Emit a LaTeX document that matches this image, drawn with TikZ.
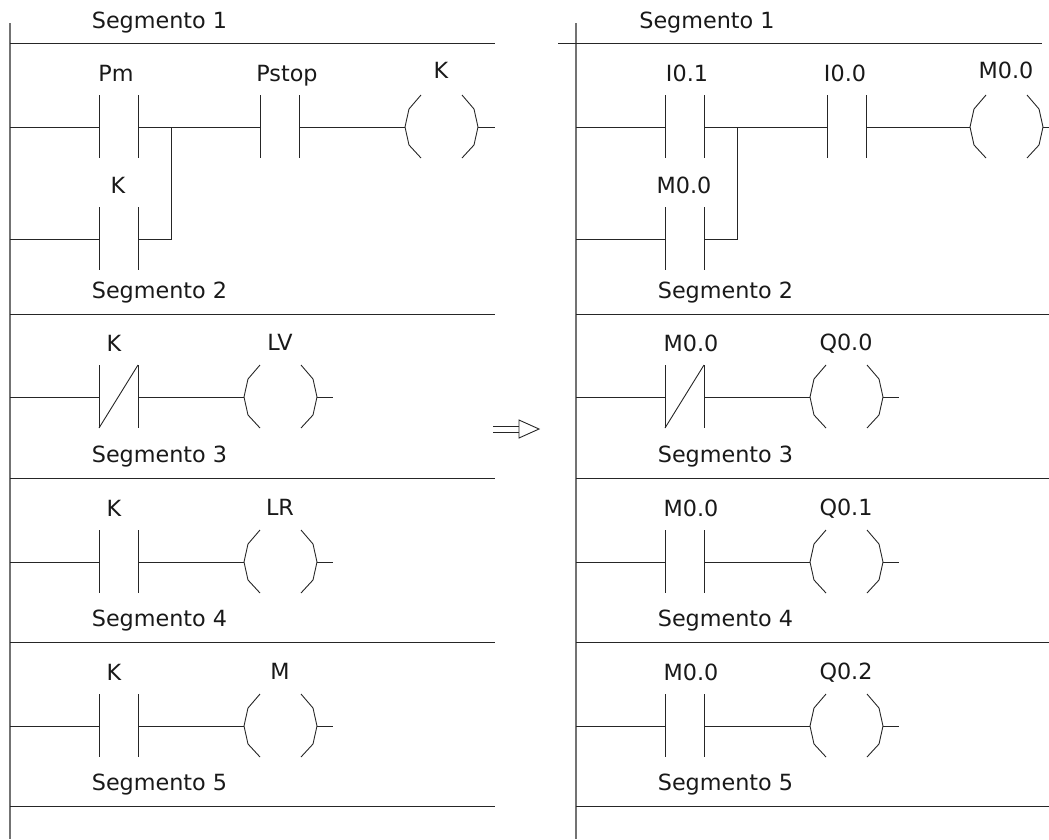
\documentclass[tikz,border=0pt]{standalone}
\usepackage{fontspec}
\setmainfont{DejaVu Sans}
\tikzset{
    wire/.style={line width=0.9pt,black!85},
    rail/.style={line width=1.2pt,black!55},
    lbl/.style={font=\fontsize{22.3}{24}\selectfont,text=black!90,inner sep=0pt,anchor=base},
}
% contact: #1 label shift, #2 name, #3 x, #4 y, #5 label
\newcommand{\contact}[5][15]{
    \coordinate (#2a) at (#3,#4);
    \coordinate (#2b) at (#3+39,#4);
    \draw[wire] (#3,#4-32) -- (#3,#4+31);
    \draw[wire] (#3+39,#4-32) -- (#3+39,#4+31);
    \node[lbl] (#2t) at (#3+#1,#4-46) {#5};
}
% coil: #1 label rise, #2 name, #3 x, #4 y, #5 label
\newcommand{\coil}[5][47]{
    \coordinate (#2a) at (#3,#4);
    \coordinate (#2b) at (#3+73,#4);
    \draw[wire] (#3+16,#4-32) -- (#3+4,#4-18) -- (#3,#4) -- (#3+4,#4+18) -- (#3+16,#4+31);
    \draw[wire] (#3+57,#4-32) -- (#3+69,#4-18) -- (#3+73,#4) -- (#3+69,#4+18) -- (#3+57,#4+31);
    \node[lbl] (#2t) at (#3+36,#4-#1) {#5};
}
\begin{document}
\begin{tikzpicture}[x=1pt,y=-1pt]
    \useasboundingbox (0,0) rectangle (1049,839);

    % left network
    \draw[rail] (10,23) -- (10,839);
    \foreach \y in {43,314,478,642,806} {
        \draw[wire] (10,\y) -- (495,\y);
    }
    \node[lbl] (sa) at (159.5,28) {Segmento 1};
    \node[lbl] (sb) at (159.5,298) {Segmento 2};
    \node[lbl] (sc) at (159.5,462) {Segmento 3};
    \node[lbl] (sd) at (159.5,626) {Segmento 4};
    \node[lbl] (se) at (159.5,790) {Segmento 5};

    \contact[17]{pm}{99}{127}{Pm}
    \contact[27]{pstop}{260}{127}{Pstop}
    \coil[49]{ka}{405}{127}{K}
    \contact[19]{kb}{99}{239}{K}
    \coordinate (bra) at (171,127);
    \coordinate (brb) at (171,239);
    \coordinate (ra) at (10,127);
    \coordinate (rb) at (10,239);
    \coordinate (ea) at (495,127);
    \draw[wire] (ra) -- (pma);
    \draw[wire] (pmb) -- (pstopa);
    \draw[wire] (pstopb) -- (kaa);
    \draw[wire] (kab) -- (ea);
    \draw[wire] (rb) -- (kba);
    \draw[wire] (kbb) -- (brb) -- (bra);

    \contact{kc}{99}{397}{K}
    \draw[wire] (99,428) -- (138,365);
    \coil{lv}{244}{397}{LV}
    \contact{kd}{99}{562}{K}
    \coil{lr}{244}{562}{LR}
    \contact{ke}{99}{726}{K}
    \coil{mo}{244}{726}{M}
    \foreach \c/\d/\y in {kc/lv/397,kd/lr/562,ke/mo/726} {
        \coordinate (r) at (10,\y);
        \coordinate (e) at (333,\y);
        \draw[wire] (r) -- (\c a);
        \draw[wire] (\c b) -- (\d a);
        \draw[wire] (\d b) -- (e);
    }

    % arrow
    \draw[wire,line width=0.7pt] (493,426) -- (519,426);
    \draw[wire,line width=0.7pt] (493,432.5) -- (519,432.5);
    \draw[wire] (519,420) -- (539,429) -- (519,438) -- cycle;

    % right network
    \draw[rail] (576,23) -- (576,839);
    \draw[wire] (558,43) -- (1042,43);
    \foreach \y in {314,478,642,806} {
        \draw[wire] (576,\y) -- (1049,\y);
    }
    \node[lbl] (ta) at (707,28) {Segmento 1};
    \node[lbl] (tb) at (725.5,298) {Segmento 2};
    \node[lbl] (tc) at (725.5,462) {Segmento 3};
    \node[lbl] (td) at (725.5,626) {Segmento 4};
    \node[lbl] (te) at (725.5,790) {Segmento 5};

    \contact[22]{ia}{665}{127}{I0.1}
    \contact[18]{ib}{827}{127}{I0.0}
    \coil[49]{ma}{970}{127}{M0.0}
    \contact[19]{mb}{665}{239}{M0.0}
    \coordinate (brc) at (737,127);
    \coordinate (brd) at (737,239);
    \coordinate (rc) at (576,127);
    \coordinate (rd) at (576,239);
    \coordinate (eb) at (1049,127);
    \draw[wire] (rc) -- (iaa);
    \draw[wire] (iab) -- (iba);
    \draw[wire] (ibb) -- (maa);
    \draw[wire] (mab) -- (eb);
    \draw[wire] (rd) -- (mba);
    \draw[wire] (mbb) -- (brd) -- (brc);

    \contact[26]{mc}{665}{397}{M0.0}
    \draw[wire] (665,428) -- (704,365);
    \coil{qa}{810}{397}{Q0.0}
    \contact[26]{md}{665}{562}{M0.0}
    \coil{qb}{810}{562}{Q0.1}
    \contact[26]{me}{665}{726}{M0.0}
    \coil{qc}{810}{726}{Q0.2}
    \foreach \c/\d/\y in {mc/qa/397,md/qb/562,me/qc/726} {
        \coordinate (r) at (576,\y);
        \coordinate (e) at (899,\y);
        \draw[wire] (r) -- (\c a);
        \draw[wire] (\c b) -- (\d a);
        \draw[wire] (\d b) -- (e);
    }
\end{tikzpicture}
\end{document}
